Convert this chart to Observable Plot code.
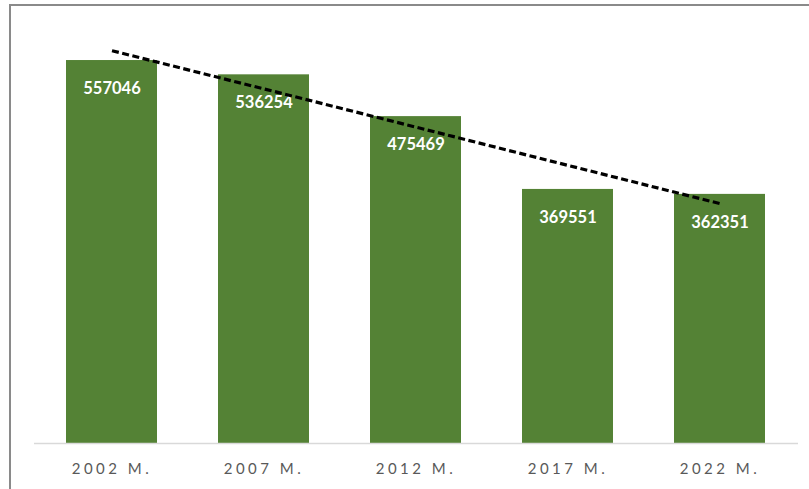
<!DOCTYPE html>
<html>
<head>
<meta charset="utf-8">
<script src="https://cdn.jsdelivr.net/npm/d3@7"></script>
<script src="https://cdn.jsdelivr.net/npm/@observablehq/plot@0.6"></script>
<style>
  html, body { margin: 0; padding: 0; background: #fff; }
  #wrap { position: relative; width: 809px; height: 489px; overflow: hidden; }
  #border { position: absolute; left: 9px; top: 4px; width: 900px; height: 600px;
            border-left: 2px solid #8a8a8a; border-top: 2px solid #8a8a8a; box-sizing: border-box; pointer-events: none; }
  #chart { position: absolute; left: 0; top: 0; }
  #chart g[aria-label="x-axis tick label"] text { letter-spacing: 3.5px; font-size: 15px !important; }
</style>
</head>
<body>
<div id="wrap">
  <div id="chart"></div>
  <div id="border"></div>
</div>
<script>
const categories = ["2002 M.", "2007 M.", "2012 M.", "2017 M.", "2022 M."];
const values = [557046, 536254, 475469, 369551, 362351];

const data = categories.map((c, i) => ({ cat: c, value: values[i], idx: i + 1 }));

// linear trendline (least squares over category index)
const mx = d3.mean(data, d => d.idx);
const my = d3.mean(values);
const slope = d3.sum(data, d => (d.idx - mx) * (d.value - my)) / d3.sum(data, d => (d.idx - mx) ** 2);
const trend = data.map(d => ({ cat: d.cat, value: my + slope * (d.idx - mx) }));

const chart = Plot.plot({
  width: 809,
  height: 489,
  marginLeft: 34,
  marginRight: 11,
  marginTop: 30.5,
  marginBottom: 46,
  style: { fontFamily: "Lato, 'Open Sans', sans-serif", background: "transparent", overflow: "visible" },
  x: { domain: categories, paddingInner: 0.4, paddingOuter: 0.2, label: null },
  y: { domain: [0, 600000], axis: null },
  marks: [
    Plot.barY(data, { x: "cat", y: "value", fill: "#548235" }),
    Plot.ruleY([0], { stroke: "#d9d9d9", strokeWidth: 1.5 }),
    Plot.text(data, { x: "cat", y: "value", text: d => String(d.value), dy: 28,
      fill: "white", fontWeight: "bold", fontSize: 16.5, lineAnchor: "middle" }),
    Plot.line(trend, { x: "cat", y: "value", stroke: "black", strokeWidth: 3.2,
      strokeDasharray: "7,3.5", strokeLinecap: "butt" }),
    Plot.axisX({ tickSize: 0, tickPadding: 20, fontSize: 15, fill: "#595959", label: null })
  ]
});
document.getElementById("chart").appendChild(chart);
</script>
</body>
</html>
